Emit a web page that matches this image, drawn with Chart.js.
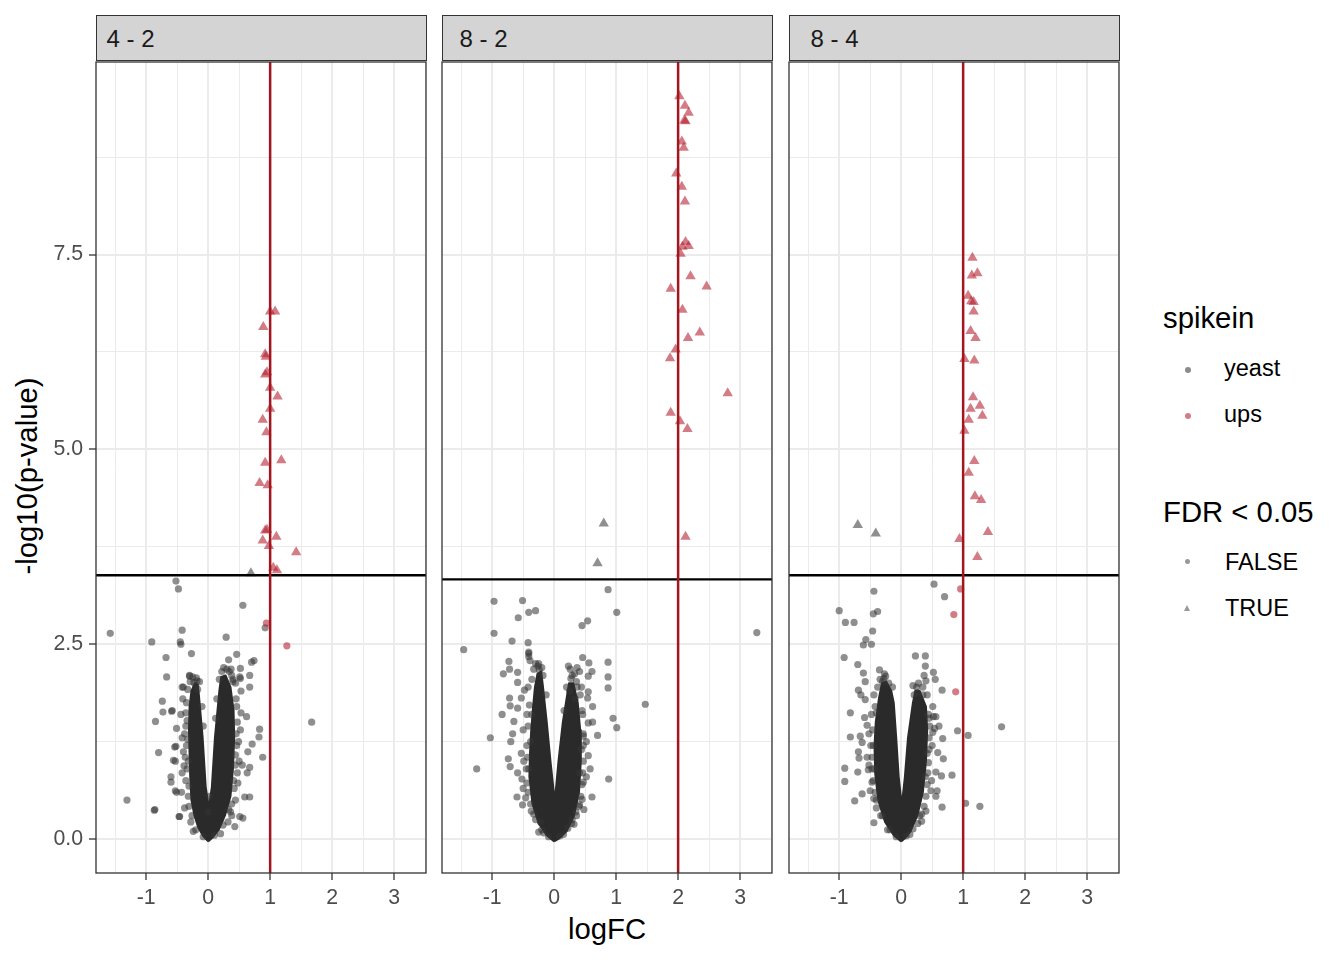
<!DOCTYPE html>
<html>
<head>
<meta charset="utf-8">
<title>Volcano plots</title>
<script src="https://cdn.jsdelivr.net/npm/chart.js@4.4.1/dist/chart.umd.min.js"></script>
<style>
  body { margin: 0; background: #fff; font-family: "Liberation Sans", Arial, Helvetica, sans-serif; }
  #page { position: relative; width: 1344px; height: 960px; overflow: hidden; }
  .panel { position: absolute; top: 56px; }
  .strip { position: absolute; top: 15px; height: 45.5px; background: #D4D4D4; border: 1.3px solid #333; box-sizing: border-box; }
  .strip span { position: absolute; top: 10.7px; font-size: 24px; line-height: 1; color: #1A1A1A; white-space: nowrap; }
  .txt { position: absolute; line-height: 1; white-space: nowrap; color: #000; }
  .title { font-size: 29.3px; }
  .label { font-size: 23.5px; }
  .dot { position: absolute; width: 6px; height: 6px; border-radius: 50%; }
  .tri { position: absolute; width: 0; height: 0; border-left: 3.5px solid transparent; border-right: 3.5px solid transparent; border-bottom: 6px solid rgba(51,51,51,0.5); }
</style>
</head>
<body>
<div id="page">
  <div class="txt title" style="left:607px; top:914px; transform:translateX(-50%);">logFC</div>
  <div class="txt title" style="left:27px; top:476px; transform:translate(-50%,-50%) rotate(-90deg);">-log10(p-value)</div>

  <div class="txt title" style="left:1163px; top:303px;">spikein</div>
  <div class="dot" style="left:1185px; top:367px; background:rgba(51,51,51,0.57);"></div>
  <div class="txt label" style="left:1224px; top:357px;">yeast</div>
  <div class="dot" style="left:1185px; top:413px; background:rgba(178,24,43,0.57);"></div>
  <div class="txt label" style="left:1224px; top:403px;">ups</div>

  <div class="txt title" style="left:1163px; top:497px;">FDR &lt; 0.05</div>
  <div class="dot" style="left:1185px; top:559px; width:5px; height:5px; background:rgba(51,51,51,0.5);"></div>
  <div class="txt label" style="left:1225px; top:551px;">FALSE</div>
  <div class="tri" style="left:1184px; top:605px;"></div>
  <div class="txt label" style="left:1225px; top:597px;">TRUE</div>
</div>

<script>
// facets and axis breaks
const contrasts = ['4 - 2', '8 - 2', '8 - 4'];
const xBreaks = [-1, 0, 1, 2, 3];
const xMinorBreaks = [-1.5, -0.5, 0.5, 1.5, 2.5, 3.5];
const yBreaks = [0, 2.5, 5, 7.5];
const yLabels = ['0.0', '2.5', '5.0', '7.5'];
const yMinorBreaks = [1.25, 3.75, 6.25, 8.75];

// threshold lines per contrast
const pThreshold = [3.385, 3.333, 3.385];
const fcThreshold = [1, 2, 1];

// ---- 4 - 2 ----
// outline of the saturated cloud of yeast points
const core42 = [[0.00,-0.03],[-0.08,0.04],[-0.16,0.15],[-0.22,0.30],[-0.27,0.50],[-0.29,0.80],[-0.30,1.10],[-0.31,1.40],[-0.30,1.70],[-0.27,1.90],[-0.21,2.00],[-0.17,1.98],[-0.15,1.85],[-0.09,1.31],[-0.04,0.67],[0.01,0.40],[0.06,0.67],[0.11,1.31],[0.18,1.90],[0.21,2.08],[0.28,2.10],[0.36,1.95],[0.41,1.65],[0.42,1.30],[0.40,0.90],[0.36,0.55],[0.27,0.30],[0.17,0.12],[0.07,0.02],[0.00,-0.03]];
const yeast42 = [[-0.52,3.31],[-0.48,3.21],[0.56,3.00],[0.92,2.71],[-1.58,2.64],[-0.91,2.53],[-0.45,2.53],[-0.44,2.50],[-0.42,2.68],[0.29,2.59],[-0.68,2.33],[-0.27,2.38],[0.46,2.37],[0.33,2.30],[0.74,2.29],[0.70,2.27],[0.52,2.19],[0.37,2.18],[-0.67,2.08],[-0.30,2.09],[-0.18,2.03],[0.67,2.10],[0.52,2.06],[-0.42,1.95],[-0.20,1.96],[0.67,1.95],[0.40,2.02],[-0.74,1.77],[-0.73,1.63],[-0.58,1.65],[-0.85,1.51],[1.67,1.50],[0.83,1.41],[0.82,1.31],[0.71,1.22],[-0.80,1.11],[0.88,1.05],[0.67,0.92],[-0.60,0.73],[0.67,0.54],[-1.31,0.50],[-0.87,0.37],[-0.86,0.38],[-0.47,0.29],[0.56,0.27],[-0.51,0.60],[-0.53,1.00],[-0.52,1.19],
  [-0.59,1.64],[-0.51,1.42],[-0.54,1.18],[-0.56,1.01],[-0.60,0.80],[-0.53,0.62],[-0.46,0.29],[-0.40,1.95],[-0.30,2.10],[-0.23,2.01],[0.62,1.57],[0.64,1.12],[0.63,0.85],[0.59,0.54],[0.51,0.29],[0.38,2.10],[0.51,2.08],[0.53,1.90],[0.43,0.16],[-0.43,0.60],[-0.39,0.94],
  [-0.35,1.75],[-0.36,1.45],[-0.35,1.20],[-0.34,0.90],[-0.32,0.55],[-0.26,0.30],[-0.20,0.12],[0.45,1.80],[0.47,1.50],[0.46,1.20],[0.44,0.95],[0.42,0.65],[0.33,0.38],[0.24,0.18],[0.10,0.05],[-0.08,0.03],[-0.44,1.60],[-0.42,1.30],[0.52,1.40],[0.50,1.00],[0.48,0.72],[-0.38,0.40],[0.38,0.30],[-0.14,2.02],[0.22,2.15],[0.30,2.18],[-0.25,2.08],
  [-0.33,1.92],[-0.36,1.62],[-0.38,1.35],[-0.37,1.05],[-0.36,0.75],[-0.31,0.42],[-0.28,0.22],[-0.24,0.10],[-0.41,1.80],[-0.40,1.12],[-0.42,0.85],[-0.34,1.52],[-0.33,1.28],[-0.32,1.00],[-0.31,0.68],[-0.29,2.02],[-0.19,2.07],[-0.17,1.92],[-0.10,1.70],[-0.08,1.45],
  [0.44,2.00],[0.46,1.70],[0.49,1.25],[0.47,0.85],[0.44,0.50],[0.38,0.45],[0.32,0.22],[0.20,0.07],[0.53,1.62],[0.55,0.95],[0.40,2.05],[0.34,2.15],[0.25,2.20],[0.18,2.05],[0.14,1.80],[0.12,1.55],[0.45,1.35],[0.44,1.08],[0.41,0.75],[0.36,0.35],[0.02,0.55],[0.00,0.35]];
const yeastSig42 = [[0.69,3.41]];
const upsNS42 = [[0.94,2.77],[1.27,2.48]];
const upsSig42 = [[1.00,6.77],[1.08,6.77],[0.89,6.57],[0.92,6.22],[0.93,6.19],[0.95,5.99],[0.92,5.96],[1.00,5.79],[1.12,5.68],[1.00,5.52],[0.88,5.38],[0.94,5.22],[0.92,4.83],[1.18,4.86],[0.83,4.57],[0.96,4.54],[0.92,3.96],[0.95,3.97],[0.88,3.83],[1.10,3.88],[0.98,3.76],[1.42,3.68],[1.05,3.48],[1.11,3.45]];

// ---- 8 - 2 ----
const core82 = [[0.00,-0.03],[-0.12,0.05],[-0.25,0.20],[-0.35,0.45],[-0.40,0.80],[-0.39,1.10],[-0.37,1.40],[-0.34,1.70],[-0.31,1.95],[-0.27,2.12],[-0.21,2.15],[-0.18,1.95],[-0.12,1.50],[-0.06,1.00],[0.01,0.48],[0.07,1.00],[0.14,1.50],[0.21,1.85],[0.24,2.00],[0.31,2.00],[0.38,1.75],[0.42,1.40],[0.43,1.00],[0.40,0.60],[0.32,0.30],[0.20,0.10],[0.08,0.01],[0.00,-0.03]];
const yeast82 = [[0.87,3.20],[1.01,2.91],[3.27,2.65],[-0.97,3.05],[-0.51,3.06],[-0.58,2.84],[-0.41,2.91],[-0.30,2.93],[0.45,2.74],[0.54,2.80],[-0.97,2.64],[-1.46,2.43],[-0.68,2.54],[-0.42,2.52],[1.47,1.73],[-1.03,1.30],[-1.25,0.90],[0.88,0.77],[0.70,1.33],[1.01,1.43],[0.95,1.55],[0.87,2.27],[0.87,2.08],[0.87,1.94],[0.56,2.26],[0.46,2.33],[0.61,2.15],[0.55,2.09],[0.23,2.22],[0.55,1.89],[0.62,1.50],[0.61,0.54],[-0.73,2.28],[-0.82,2.12],[-0.72,2.18],[-0.59,2.14],[-0.59,2.01],[-0.84,1.60],[-0.74,1.03],[-0.71,0.93],[-0.60,0.54],[-0.51,0.44],[-0.72,1.81],[-0.71,1.71],[-0.41,2.40],[-0.41,2.34],[-0.25,0.09],[0.32,0.19],[0.48,0.38],
  [0.37,2.20],[0.41,2.15],[0.29,2.10],[0.25,1.90],[0.37,1.95],[0.34,1.80],[-0.41,2.38],[-0.39,2.29],[-0.26,2.22],[-0.24,2.17],[-0.48,1.91],[-0.53,1.81],[-0.59,1.68],[-0.65,1.51],[-0.67,1.35],[-0.70,1.25],[-0.53,1.10],[-0.59,0.85],[-0.52,0.77],[-0.46,0.53],[-0.37,0.36],[-0.22,0.22],
  [0.54,1.81],[0.62,1.70],[0.55,1.49],[0.47,1.32],[0.55,1.07],[0.58,0.90],[0.47,0.73],[0.45,0.51],[0.41,0.44],[0.29,0.25],
  [-0.44,1.60],[-0.44,1.20],[-0.45,0.90],[-0.42,0.60],[-0.33,0.32],[-0.20,0.12],[0.46,1.60],[0.47,1.20],[0.46,0.85],[0.43,0.55],[0.35,0.35],[0.22,0.14],[0.09,0.04],[-0.09,0.03],[-0.30,2.25],[-0.20,2.20],[0.27,2.06],[0.36,2.02],
  [-0.42,1.95],[-0.40,1.72],[-0.42,1.45],[-0.43,1.05],[-0.44,0.72],[-0.38,0.45],[-0.30,0.25],[-0.17,0.08],[-0.50,1.40],[-0.49,1.00],[-0.50,0.65],[-0.36,2.05],[-0.33,2.18],[-0.25,2.25],[-0.18,2.10],[-0.13,1.85],[-0.38,1.25],[-0.41,0.90],[-0.36,1.60],
  [0.44,1.95],[0.45,1.65],[0.47,1.35],[0.47,1.00],[0.45,0.70],[0.40,0.42],[0.28,0.20],[0.15,0.06],[0.52,1.25],[0.52,0.80],[0.33,2.12],[0.26,2.18],[0.20,1.95],[0.16,1.65],[0.42,1.85],[0.44,1.15],[0.41,0.85],[0.36,0.30]];
const yeastSig82 = [[0.80,4.05],[0.70,3.54]];
const upsNS82 = [];
const upsSig82 = [[2.02,9.53],[2.11,9.41],[2.17,9.32],[2.10,9.22],[2.12,9.21],[2.06,8.95],[2.09,8.87],[1.97,8.54],[2.06,8.37],[2.11,8.18],[2.12,7.66],[2.17,7.61],[2.07,7.60],[2.04,7.51],[2.20,7.22],[2.46,7.09],[1.88,7.06],[2.07,6.79],[2.35,6.50],[2.16,6.43],[1.96,6.28],[1.87,6.17],[2.80,5.72],[1.88,5.47],[2.03,5.36],[2.15,5.26],[2.12,3.88]];

// ---- 8 - 4 ----
const core84 = [[0.00,-0.03],[-0.12,0.05],[-0.26,0.22],[-0.37,0.50],[-0.42,0.85],[-0.43,1.20],[-0.41,1.50],[-0.36,1.80],[-0.31,2.00],[-0.24,2.02],[-0.16,1.90],[-0.12,1.75],[-0.08,1.30],[-0.04,0.80],[0.01,0.43],[0.06,0.80],[0.11,1.30],[0.19,1.75],[0.23,1.90],[0.30,1.90],[0.40,1.70],[0.42,1.40],[0.40,1.00],[0.35,0.60],[0.26,0.30],[0.15,0.10],[0.06,0.01],[0.00,-0.03]];
const yeast84 = [[0.53,3.27],[0.70,3.11],[-0.44,3.18],[-1.00,2.93],[-0.90,2.78],[-0.76,2.78],[-0.45,2.89],[-0.38,2.92],[-0.46,2.67],[-0.57,2.56],[-0.61,2.49],[-0.48,2.50],[-0.92,2.33],[-0.70,2.24],[-0.61,2.13],[-0.58,2.02],[-0.69,1.91],[-0.82,1.62],[-0.82,1.31],[-0.66,1.32],[-0.69,1.12],[-0.68,1.04],[-0.91,0.91],[-0.91,0.74],[-0.70,0.86],[-0.63,0.58],[-0.75,0.49],[-0.44,0.21],[0.23,2.35],[0.39,2.35],[0.39,2.22],[0.52,2.14],[0.55,2.05],[0.37,2.10],[0.40,2.03],[0.19,1.97],[0.26,1.88],[0.66,1.91],[0.52,1.57],[1.62,1.44],[0.91,1.39],[1.08,1.33],[0.67,1.29],[0.61,1.45],[0.54,1.42],[0.68,1.03],[0.65,0.81],[0.82,0.82],[0.58,0.62],[0.56,0.55],[0.66,0.41],[1.04,0.46],[1.27,0.42],
  [-0.65,1.85],[-0.58,1.79],[-0.59,1.56],[-0.55,1.46],[-0.63,1.24],[-0.55,1.05],[-0.53,0.89],[-0.47,0.73],[-0.44,0.52],[-0.40,0.40],[-0.35,2.17],[-0.25,2.09],[-0.30,2.02],
  [0.51,1.70],[0.56,1.57],[0.51,1.37],[0.59,1.11],[0.56,0.86],[0.48,0.62],[0.40,0.36],[0.33,0.23],
  [-0.48,1.60],[-0.49,1.20],[-0.47,0.90],[-0.42,0.60],[-0.30,0.30],[-0.18,0.12],[0.45,1.55],[0.45,1.15],[0.43,0.85],[0.40,0.55],[0.30,0.30],[0.19,0.13],[0.08,0.04],[-0.08,0.03],[-0.28,2.06],[0.25,1.95],[0.35,1.85],
  [-0.38,1.95],[-0.42,1.70],[-0.46,1.40],[-0.47,1.05],[-0.45,0.75],[-0.40,0.50],[-0.33,0.30],[-0.22,0.12],[-0.52,1.35],[-0.52,0.95],[-0.50,0.62],[-0.34,2.05],[-0.27,2.12],[-0.20,2.00],[-0.14,1.95],[-0.44,1.85],[-0.45,1.20],[-0.43,0.90],[-0.40,1.62],
  [0.42,1.85],[0.44,1.60],[0.45,1.30],[0.44,0.98],[0.42,0.70],[0.37,0.42],[0.27,0.20],[0.14,0.06],[0.50,1.20],[0.49,0.75],[0.35,1.95],[0.28,2.00],[0.21,1.85],[0.46,1.45],[0.42,1.10],[0.39,0.80],[0.33,0.32]];
const yeastSig84 = [[-0.70,4.03],[-0.41,3.92]];
const upsNS84 = [[0.96,3.21],[0.85,2.88],[0.88,1.89]];
const upsSig84 = [[1.15,7.46],[1.14,7.23],[1.23,7.26],[1.08,6.97],[1.13,6.90],[1.17,6.89],[1.17,6.77],[1.12,6.52],[1.20,6.43],[1.02,6.16],[1.18,6.14],[1.16,5.67],[1.27,5.56],[1.12,5.52],[1.31,5.43],[1.09,5.38],[1.02,5.24],[1.18,4.85],[1.09,4.70],[1.19,4.40],[1.29,4.35],[1.40,3.94],[0.94,3.85],[1.23,3.62]];

const cores = [core42, core82, core84];
const yeastNS = [yeast42, yeast82, yeast84];
const yeastSig = [yeastSig42, yeastSig82, yeastSig84];
const upsNS = [upsNS42, upsNS82, upsNS84];
const upsSig = [upsSig42, upsSig82, upsSig84];

// scale limits and layout
const X_MIN = -1.81, X_MAX = 3.515, Y_MIN = -0.435, Y_MAX = 9.97;
const panelLeft = [96, 442, 789];
const stripTextOffset = [10, 17, 21];
const PANEL_W = 330;
const Y_AXIS_W = 66;

const FONT = '"Liberation Sans", Arial, Helvetica, sans-serif';
const YEAST = 'rgba(51, 51, 51, 0.55)';
const UPS = 'rgba(178, 24, 43, 0.57)';
Chart.defaults.font.family = FONT;

function toPoints(pairs) {
    return pairs.map(p => ({ x: p[0], y: p[1] }));
}

function allTicks(major, minor) {
    return major.concat(minor).sort((a, b) => a - b).map(v => ({ value: v }));
}

// panel border on top of everything, like theme_bw
const panelBorder = {
    id: 'panelBorder',
    afterDraw(chart) {
        const a = chart.chartArea;
        const ctx = chart.ctx;
        ctx.save();
        ctx.strokeStyle = '#333333';
        ctx.lineWidth = 1.3;
        ctx.strokeRect(a.left, a.top, a.right - a.left, a.bottom - a.top);
        ctx.restore();
    }
};

function makeStrip(i) {
    const strip = document.createElement('div');
    strip.className = 'strip';
    strip.style.left = (panelLeft[i] - 0.5) + 'px';
    strip.style.width = (PANEL_W + 1) + 'px';
    const span = document.createElement('span');
    span.style.left = stripTextOffset[i] + 'px';
    span.textContent = contrasts[i];
    strip.appendChild(span);
    document.getElementById('page').appendChild(strip);
}

function makePanel(i) {
    const first = i === 0;
    const padLeft = first ? 0 : 6;
    const axisW = first ? Y_AXIS_W : 0;
    const width = axisW + padLeft + PANEL_W + 6;
    const height = 860;

    const wrap = document.createElement('div');
    wrap.className = 'panel';
    wrap.style.left = (panelLeft[i] - axisW - padLeft) + 'px';
    const canvas = document.createElement('canvas');
    canvas.width = width;
    canvas.height = height;
    canvas.style.width = width + 'px';
    canvas.style.height = height + 'px';
    wrap.appendChild(canvas);
    document.getElementById('page').appendChild(wrap);

    const tickFont = { size: 21.3, family: FONT };

    new Chart(canvas, {
        type: 'scatter',
        data: {
            datasets: [
                {
                    // the overplotted middle of the cloud
                    label: 'yeast (dense)',
                    data: toPoints(cores[i]),
                    showLine: true,
                    fill: 'shape',
                    tension: 0,
                    backgroundColor: '#2a2a2a',
                    borderColor: '#2a2a2a',
                    borderWidth: 2,
                    borderJoinStyle: 'round',
                    pointRadius: 0,
                    order: 7
                },
                {
                    label: 'yeast FALSE',
                    data: toPoints(yeastNS[i]),
                    pointStyle: 'circle',
                    pointRadius: 3.6,
                    backgroundColor: YEAST,
                    borderWidth: 0,
                    order: 6
                },
                {
                    label: 'yeast TRUE',
                    data: toPoints(yeastSig[i]),
                    pointStyle: 'triangle',
                    pointRadius: 6,
                    backgroundColor: YEAST,
                    borderWidth: 0,
                    order: 5
                },
                {
                    label: 'ups FALSE',
                    data: toPoints(upsNS[i]),
                    pointStyle: 'circle',
                    pointRadius: 3.6,
                    backgroundColor: UPS,
                    borderWidth: 0,
                    order: 4
                },
                {
                    label: 'ups TRUE',
                    data: toPoints(upsSig[i]),
                    pointStyle: 'triangle',
                    pointRadius: 6,
                    backgroundColor: UPS,
                    borderWidth: 0,
                    order: 3
                },
                {
                    label: 'p threshold',
                    data: [{ x: X_MIN, y: pThreshold[i] }, { x: X_MAX, y: pThreshold[i] }],
                    showLine: true,
                    borderColor: '#000000',
                    borderWidth: 2.3,
                    pointRadius: 0,
                    order: 2
                },
                {
                    label: 'logFC threshold',
                    data: [{ x: fcThreshold[i], y: Y_MIN }, { x: fcThreshold[i], y: Y_MAX }],
                    showLine: true,
                    borderColor: '#A3161F',
                    borderWidth: 2.5,
                    pointRadius: 0,
                    order: 1
                }
            ]
        },
        options: {
            responsive: false,
            animation: false,
            events: [],
            layout: { padding: { left: padLeft, right: 6, top: 4, bottom: 0 } },
            plugins: {
                legend: { display: false },
                tooltip: { enabled: false }
            },
            scales: {
                x: {
                    type: 'linear',
                    min: X_MIN,
                    max: X_MAX,
                    afterBuildTicks: s => { s.ticks = allTicks(xBreaks, xMinorBreaks); },
                    afterFit: s => { s.height = 43; s.paddingLeft = 0; s.paddingRight = 0; },
                    border: { display: false },
                    grid: {
                        color: '#EBEBEB',
                        lineWidth: c => xBreaks.includes(c.tick.value) ? 2 : 1,
                        drawTicks: true,
                        tickLength: 7,
                        tickWidth: 1.3,
                        tickColor: c => xBreaks.includes(c.tick.value) ? '#333333' : 'rgba(0,0,0,0)'
                    },
                    ticks: {
                        autoSkip: false,
                        maxRotation: 0,
                        padding: 5,
                        color: '#4D4D4D',
                        font: tickFont,
                        callback: v => xBreaks.includes(v) ? String(v) : ''
                    }
                },
                y: {
                    type: 'linear',
                    min: Y_MIN,
                    max: Y_MAX,
                    afterBuildTicks: s => { s.ticks = allTicks(yBreaks, yMinorBreaks); },
                    afterFit: s => { s.width = axisW; s.paddingTop = 0; s.paddingBottom = 0; },
                    border: { display: false },
                    grid: {
                        color: '#EBEBEB',
                        lineWidth: c => yBreaks.includes(c.tick.value) ? 2 : 1,
                        drawTicks: first,
                        tickLength: 7,
                        tickWidth: 1.3,
                        tickColor: c => yBreaks.includes(c.tick.value) ? '#333333' : 'rgba(0,0,0,0)'
                    },
                    ticks: {
                        display: first,
                        autoSkip: false,
                        padding: 6,
                        color: '#4D4D4D',
                        font: tickFont,
                        callback: v => yBreaks.includes(v) ? yLabels[yBreaks.indexOf(v)] : ''
                    }
                }
            }
        },
        plugins: [panelBorder]
    });
}

contrasts.forEach((c, i) => {
    makeStrip(i);
    makePanel(i);
});
</script>
</body>
</html>
